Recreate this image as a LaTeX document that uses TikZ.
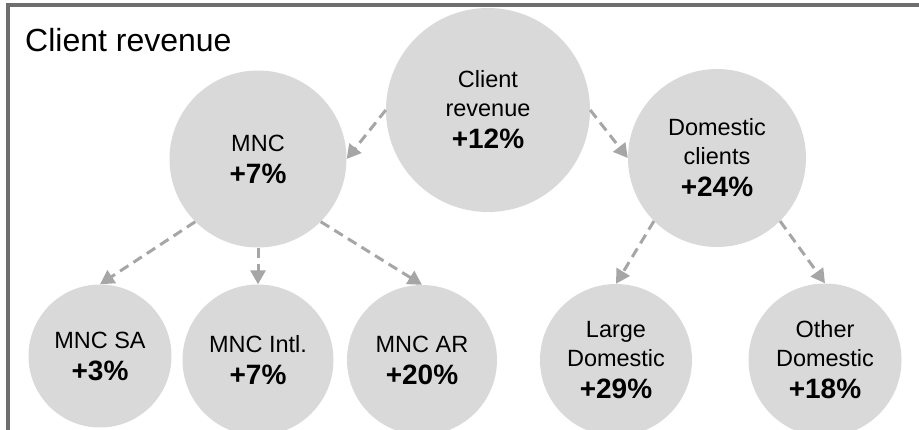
\documentclass[tikz,border=0pt]{standalone}
\usepackage{fontspec}
\setmainfont{Liberation Sans}
\usetikzlibrary{arrows.meta}
\definecolor{framegray}{RGB}{110,110,110}
\definecolor{circfill}{RGB}{217,217,217}
\definecolor{arrgray}{RGB}{166,166,166}
\newcommand{\pct}[1]{{\fontsize{28}{32}\selectfont\bfseries #1}}
\tikzset{
  bubble/.style={circle, fill=circfill, draw=none, inner sep=0pt, align=center, text=black,
    font=\fontsize{23.5}{29}\selectfont},
  link/.style={draw=arrgray, line width=3pt, dash pattern=on 10pt off 6pt,
    -{Triangle[length=14pt,width=15pt]}},
}
\begin{document}
\begin{tikzpicture}[x=1pt,y=-1pt]
\useasboundingbox (0,0) rectangle (919,430);
% frame
\draw[framegray, line width=4pt] (8,434) -- (8,5) -- (923,5);
% title
\node[anchor=base west, inner sep=0pt, font=\fontsize{32}{36}\selectfont] (title) at (25,52) {Client revenue};
% nodes
\node[bubble, minimum size=204pt] (cr) at (488,110) {Client\\revenue\\[3pt]\pct{+12\%}};
\node[bubble, minimum size=177pt] (mnc) at (258,159) {MNC\\[3pt]\pct{+7\%}};
\node[bubble, minimum size=178pt] (dom) at (717,158) {Domestic\\clients\\[3pt]\pct{+24\%}};
\node[bubble, minimum size=143pt] (sa) at (100,356) {MNC SA\\[3pt]\pct{+3\%}};
\node[bubble, minimum size=151pt] (intl) at (258,360) {MNC Intl.\\[3pt]\pct{+7\%}};
\node[bubble, minimum size=150pt] (ar) at (422,360) {MNC AR\\[3pt]\pct{+20\%}};
\node[bubble, minimum size=152pt] (large) at (616,360) {Large\\Domestic\\[3pt]\pct{+29\%}};
\node[bubble, minimum size=153pt] (other) at (825,360) {Other\\Domestic\\[3pt]\pct{+18\%}};
% connectors
\draw[link] (cr.west) -- (mnc.east);
\draw[link] (cr.east) -- (dom.west);
\draw[link] (mnc.south west) -- (sa.north);
\draw[link] (mnc.south) -- (intl.north);
\draw[link] (mnc.south east) -- (ar.north);
\draw[link] (dom.south west) -- (large.north);
\draw[link] (dom.south east) -- (other.north);
\end{tikzpicture}
\end{document}
